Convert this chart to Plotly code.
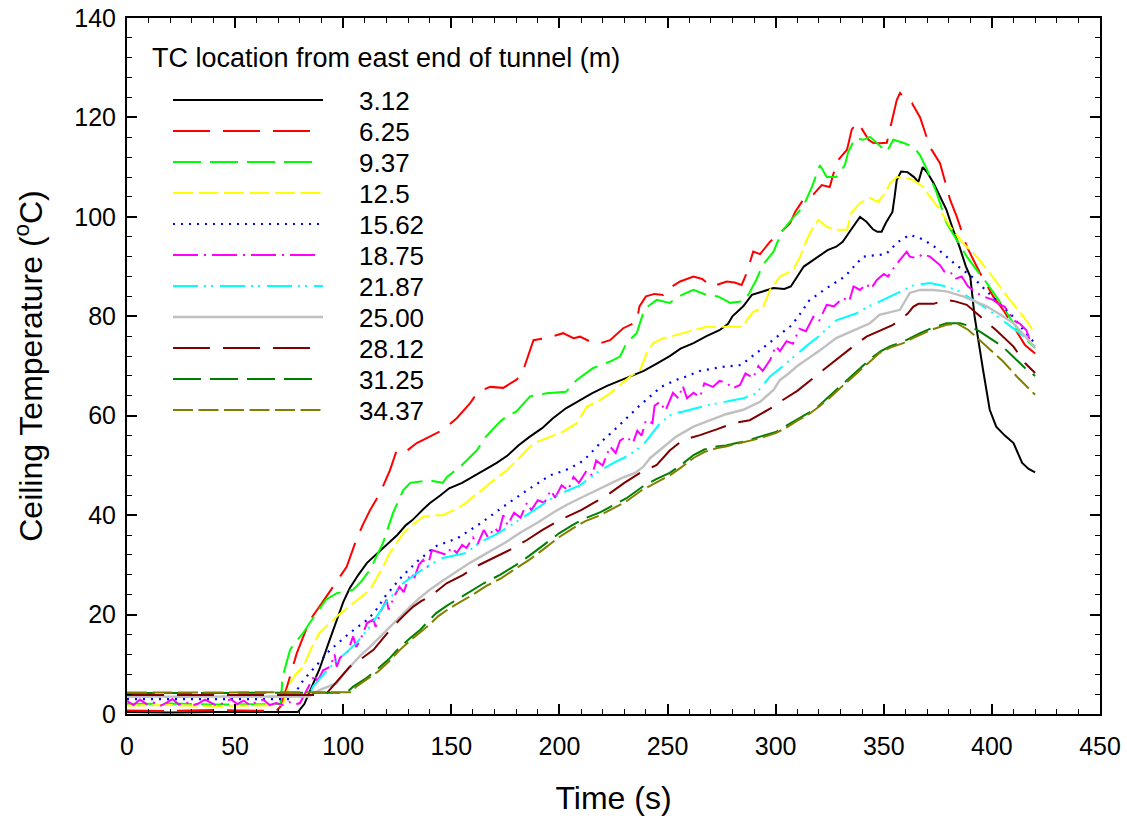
import plotly.graph_objects as go

# ---------------- data ----------------
labels = ["3.12", "6.25", "9.37", "12.5", "15.62", "18.75", "21.87", "25.00", "28.12", "31.25", "34.37"]

t_312 = [0, 20, 40, 60, 79, 82, 86, 89, 93, 97, 100, 103, 107, 111, 115, 120, 125, 129, 132, 137, 140, 145, 149, 155, 159, 165, 171, 176, 181, 186, 192, 197, 203, 209, 215, 222, 229, 234, 239, 245, 251, 256, 262, 268, 274, 278, 280, 285, 289, 294, 299, 304, 307, 310, 313, 318, 324, 328, 331, 335, 339, 342, 345, 347, 349, 351, 354, 355, 356, 358, 361, 364, 366, 368, 370, 373, 376, 379, 382, 385, 388, 390, 392, 394, 396, 399, 402, 406, 410, 414, 417, 420]
T_312 = [0.4, 0.3, 0.4, 0.4, 0.4, 2, 6, 9, 14, 19, 22.5, 25.3, 28, 30.4, 32, 33.8, 36, 38, 39, 41.2, 42.4, 44, 45.4, 46.5, 47.5, 49, 50.5, 52, 54, 55.7, 57.5, 59.5, 61.5, 63, 64.5, 66, 67.2, 68.2, 69, 70.5, 72, 73.5, 74.6, 76, 77.2, 78.5, 80, 82, 84.3, 85, 85.7, 85.5, 86, 88, 90, 91.5, 93.3, 94, 95, 97.5, 100, 99, 97.5, 97, 97, 98.8, 101, 104, 107.4, 109.1, 109, 108, 107, 110, 109, 106.8, 104, 101.4, 97.5, 94, 90, 88, 80, 74, 69, 61.2, 57.8, 56, 54.5, 50.5, 49.3, 48.6]

t_625 = [0, 20, 40, 60, 69, 71, 74, 78.5, 82, 84.6, 89, 92, 95, 98, 101.6, 106, 109, 112.4, 117, 121.6, 124.7, 129, 134, 140, 146, 152.5, 158.6, 162.4, 168, 174, 180, 182.5, 185, 188, 194, 201.7, 206.5, 209.5, 215.7, 219, 223.4, 229.5, 235.7, 237, 240, 244, 248, 249.6, 255.8, 262, 266, 270.4, 274, 277.4, 281, 284.3, 286.6, 287.4, 289.6, 292.8, 297.4, 302, 306.6, 309, 312.7, 316, 321.3, 325, 328.3, 333, 335.2, 338, 340.5, 343, 345, 348, 351.4, 353.7, 356, 357.5, 360.6, 363, 366.8, 371.4, 376, 380.7, 383.8, 388.4, 394.5, 400.6, 405.2, 410, 415.3, 420]
T_625 = [0.7, 0.6, 0.8, 0.7, 0.6, 1.5, 5.5, 12.2, 16, 18.9, 21.6, 23.5, 25.6, 27.5, 29.6, 35, 38, 41, 44.4, 49, 53, 52.8, 54.5, 55.8, 57.1, 59.5, 62.5, 64.8, 65.8, 65.6, 67.2, 68.2, 71.2, 75.2, 75.6, 76.6, 75.6, 75.9, 74.6, 74.6, 75.2, 77.6, 78.9, 82, 84, 84.5, 84.3, 85.3, 87, 88, 87.5, 86, 86.5, 87, 86.8, 86.3, 88.7, 90, 93, 92.5, 95, 96.7, 98.7, 101, 103.4, 103.8, 106.4, 106, 111.1, 113.5, 117.6, 119, 117.1, 115.5, 114.9, 114.8, 114.9, 118.9, 123.5, 124.9, 123.5, 122.9, 120, 114, 110.8, 103.4, 100, 94, 88.7, 84, 81.3, 78, 74.2, 72.5]

t_937 = [0, 20, 40, 60, 71, 72, 75.4, 78, 81.5, 84, 87.7, 92, 97, 100, 104.6, 108, 112.4, 115, 118.4, 123, 127.7, 131, 134, 140, 146, 148, 154, 158.6, 161.7, 166, 172.5, 176, 180, 186.4, 194, 203, 208, 215.6, 223.4, 228, 231, 235.7, 238.7, 240, 245, 251, 256.6, 262, 268, 273.4, 279, 285, 286.6, 291, 294, 299, 302.8, 308, 312.7, 316.7, 320.5, 323.6, 328, 332, 333.5, 336.7, 340.5, 343.6, 346.7, 351.4, 354.4, 359, 363.6, 366.8, 370, 374.5, 379, 383.8, 388.4, 393, 397.6, 404, 410, 416, 420]
T_937 = [2.0, 2.1, 1.9, 2.0, 2.0, 7.5, 12.9, 14.5, 16.3, 18, 20.3, 23, 24.3, 24.5, 25, 26.5, 29, 31.5, 34.4, 40.4, 45, 46.5, 46.7, 47, 46.5, 47.7, 49.7, 51.7, 53, 55.8, 58.8, 60, 60.8, 63.9, 64.5, 64.8, 67.2, 69.6, 70.9, 71.9, 74.6, 76.6, 80.6, 81.7, 83.3, 82.7, 84.3, 85.3, 84.3, 84, 82.7, 83, 83.7, 87.3, 90.3, 93, 97, 99.8, 102, 106, 110.4, 108, 108, 110.4, 113, 115.8, 115.5, 116.1, 114.9, 113.1, 115.5, 114.9, 114.1, 112.4, 109.5, 104.8, 98.8, 95.4, 92, 89.3, 86.7, 82.7, 78.6, 75.2, 73.6]

t_125 = [0, 20, 40, 60, 72, 75.4, 78, 81.5, 85, 89, 93, 97, 101, 104.6, 108, 112.4, 115, 118.4, 121, 124.7, 128, 131, 137, 142, 146, 152.5, 157, 160, 164, 168, 171, 175.6, 181.8, 186.4, 190, 194, 201.7, 208, 212.6, 218.8, 223.4, 228, 232.7, 237.3, 240.4, 243.4, 248, 251, 257, 261.8, 268, 277.4, 285, 286.6, 289.6, 294, 297.4, 302, 308, 311.3, 314.4, 317.4, 319.7, 323.6, 328, 333, 335, 339, 343.6, 347.4, 350.6, 353, 356, 360.6, 363.6, 368.3, 371.4, 376, 380.7, 386.7, 393, 399, 407, 414.5, 420]
T_125 = [1.7, 1.8, 1.6, 1.7, 1.8, 6.2, 8, 9.5, 13, 16.3, 18, 19.6, 21, 22.3, 23.5, 25, 27, 29.6, 32, 34.4, 36.5, 37.7, 39.7, 40, 40, 41.3, 42.5, 43.7, 45, 46.5, 47.5, 49, 51.7, 53.8, 54.8, 55.5, 56.8, 58.5, 61.8, 63.2, 64.5, 66.2, 67.9, 69.2, 72.6, 74.6, 75.6, 75.9, 76.6, 77.2, 77.9, 77.9, 77.9, 79.2, 80.9, 81.7, 85.3, 88, 89.3, 92, 95.4, 98, 99.4, 98, 97.4, 97.4, 100.8, 102.8, 103.8, 103, 104.8, 106.8, 108, 107.8, 107.4, 106, 104, 101.4, 98, 94.7, 92, 88.7, 84, 80, 76.6]

t_1562 = [0, 20, 40, 60, 76, 81.5, 87.7, 94, 103, 111, 114.7, 119.3, 127, 134, 142.5, 153, 164, 174, 185, 195.6, 202.6, 209.5, 213, 220, 227, 237, 247, 254, 258, 265, 275, 284, 294, 300.5, 307.4, 312.7, 315, 323, 332, 340.4, 351, 356.4, 362, 368, 374.5, 383, 391.5, 398.4, 409, 415, 420]
T_1562 = [3.0, 3.0, 3.0, 3.0, 3.0, 6.8, 9.9, 12.9, 16.3, 18.9, 20.6, 23.6, 27.6, 30.6, 33.7, 35.4, 38.5, 41.7, 45, 48, 49, 50.5, 51.8, 55, 57.8, 62, 65.8, 67.2, 67.8, 69, 69.8, 70.2, 73.6, 75.9, 78.2, 81.3, 83, 85.5, 88, 92, 92.5, 94.9, 96.4, 95.5, 93.7, 90.5, 87.7, 84.7, 80.3, 77, 74.5]

t_1875 = [0, 3, 6, 9, 12, 15, 18, 21, 24, 27, 30, 33, 36, 39, 42, 45, 48, 51, 54, 57, 60, 63, 66, 69, 72, 75, 78, 80, 84.6, 87, 88, 90.7, 94, 96, 97, 98.5, 102, 104.6, 106, 108, 111, 114, 115, 117, 120, 121, 124, 126, 128, 131, 133, 135, 137, 139, 141, 144.8, 148, 150, 152.5, 155, 157, 160, 162, 165, 167, 170, 172, 174, 176, 179, 182, 185, 187, 190, 193, 196, 198, 201, 204, 206.5, 209, 212.6, 215, 217, 220, 223.4, 226, 228, 231, 234, 236, 238, 240, 243, 244, 246.5, 249, 252.5, 255, 257, 259, 262, 265, 267, 271, 274, 277.4, 280, 283.5, 286, 289.6, 292, 294, 297.4, 300, 302, 305, 308, 311, 314, 317.4, 320, 323.6, 327, 331, 334, 336, 339, 342, 344, 346.8, 350, 352, 355, 357.5, 359, 360.6, 362, 365.3, 368, 371.4, 374, 376, 378, 380.7, 383, 386, 389, 393, 396, 400.6, 403, 406, 410, 413, 416, 418, 420]
T_1875 = [2.6, 1.8, 2.9, 2.0, 2.4, 1.6, 2.2, 3.0, 1.9, 2.5, 1.7, 2.1, 2.9, 2.2, 1.6, 2.4, 3.0, 2.0, 2.7, 1.7, 2.5, 2.9, 1.8, 2.2, 1.8, 2.4, 1.9, 2.2, 6.2, 8, 6.5, 8.8, 9.5, 12, 9.5, 11.3, 12.5, 15.6, 13.5, 15, 18.3, 19, 17.5, 20.3, 23, 21, 24, 25.6, 24.5, 28.3, 27.5, 30, 31, 29.5, 33, 32.4, 32, 33.5, 32.4, 34, 33.4, 35.5, 34, 37, 35.5, 37.5, 36.5, 40, 38, 40.5, 39.5, 42.5, 41, 43, 42.5, 45, 43.5, 46, 45, 47.7, 46.5, 49, 48, 51, 50, 53.8, 52.5, 55, 55.8, 54.5, 57, 56, 59.1, 58.5, 62, 62.8, 61, 64.6, 63.5, 66, 63.5, 64.6, 63.8, 66.5, 65.8, 67, 66.6, 65.5, 66.2, 68.5, 67.6, 70, 69, 71.2, 74, 73, 75, 74.5, 77.5, 77, 79.9, 79, 82.3, 82, 83.7, 83, 86, 85.3, 86.5, 85.5, 87.3, 88.5, 88, 90, 91.3, 92, 93, 92, 91.7, 92.5, 92, 91, 90.3, 89, 89, 87.5, 88, 86, 84.7, 84, 83.3, 82.5, 81.9, 79.2, 78.5, 77.2, 74.5, 74]

t_2187 = [0, 20, 40, 60, 84, 86, 90, 94, 100, 106, 112.4, 116, 120, 124, 127.7, 134, 140, 146, 152, 157, 163, 170, 176, 183, 190, 197, 203, 209.5, 214, 218.8, 225, 231, 238.7, 242, 246.5, 252.5, 257, 263, 269.7, 279, 285, 291, 294, 297.4, 302, 306, 310, 315, 320, 328, 337.5, 343, 349.7, 357.5, 364, 371.4, 379, 385, 391.5, 396, 400.6, 407, 413, 420]
T_2187 = [3.5, 3.4, 3.5, 3.5, 3.5, 5.5, 7.5, 9.5, 11.8, 14.2, 17.6, 20, 22.6, 24.5, 26.3, 28.3, 30, 31.4, 32, 32.4, 34.5, 36, 37.5, 39.5, 41.5, 43.5, 44.8, 46, 47.5, 49, 50.5, 51.8, 54.1, 56, 58.5, 60.5, 60.8, 61.5, 62.2, 63, 63.5, 64.5, 66, 67.9, 69.5, 71, 72.5, 74.3, 76, 79.2, 80.6, 82, 83.3, 85, 86.3, 86.7, 86, 85, 83.3, 82, 80.6, 78.6, 76.6, 73.9]

t_2500 = [0, 20, 40, 60, 84, 89, 93, 97, 101, 104.6, 108, 112.4, 117, 121.6, 126, 131, 135, 140, 146, 151, 158.6, 165, 175, 182, 190, 197, 203, 209.5, 215, 220, 229, 235, 238.7, 242, 246.5, 250, 254, 262, 269.7, 277, 285, 292.8, 299, 302, 306, 310, 315, 320, 328, 336, 343.6, 348, 357.5, 362, 366.8, 373, 379, 386.7, 392, 397.6, 404, 410, 415, 420]
T_2500 = [3.5, 3.5, 3.5, 3.5, 3.5, 4.8, 5.5, 6.2, 8.5, 10.3, 11.8, 13.5, 15.5, 17.6, 19.5, 21.6, 23.2, 25, 26.8, 28.3, 30.4, 32, 34.5, 36.5, 38.5, 40.5, 42, 43.4, 44.6, 45.7, 47.5, 48.5, 49.7, 51.5, 53.1, 54.5, 55.8, 57.8, 59.1, 60.3, 61.2, 62.8, 65.2, 67.2, 68.5, 70, 71.5, 73, 75.6, 77.2, 78.6, 80.3, 81.3, 84.7, 85.3, 85.3, 85, 84, 83, 82, 80.3, 78.6, 76.2, 73.6]

t_2812 = [0, 20, 40, 60, 90, 92.4, 97, 103, 108, 114, 118, 123, 128, 132.4, 136, 140, 147.8, 155.5, 162, 170, 177, 185, 192, 200, 206, 210, 216, 222, 230, 237.3, 245, 251, 257, 265, 273, 280.4, 288, 294, 299, 302, 310, 320, 330, 336, 342, 348, 354, 358, 361, 363.6, 366, 373, 379, 383, 388.4, 394.5, 402, 410, 415.3, 420]
T_2812 = [3.8, 3.8, 3.7, 3.8, 3.8, 4.2, 6.5, 9.5, 11, 12.9, 15, 17.6, 19.8, 21.6, 22.7, 23.6, 26.3, 28, 29.8, 31.5, 33, 35, 37, 39, 40.3, 41, 42.5, 44, 46.5, 48.5, 50.1, 53, 55.1, 56.1, 57.3, 58.5, 59.1, 60.5, 61.8, 62.8, 65, 68.5, 72, 74, 75.9, 77, 78.2, 79.5, 80.5, 81.9, 82.5, 82.5, 83.3, 83, 82.3, 80, 77.2, 73.9, 70.6, 68.6]

t_3125 = [0, 20, 40, 60, 80, 100, 102, 104.6, 110, 115.5, 121, 126.3, 131, 135.5, 139, 143, 148, 152.5, 158.6, 165, 172.5, 180, 186, 191, 196, 200, 206, 212, 219, 225, 231, 238.7, 245, 251, 256, 262, 267, 272.7, 277, 282, 287, 292.8, 300.5, 305, 310, 315, 320, 325, 330, 335, 340, 344, 348.3, 353, 359, 363, 366.8, 372, 379, 385.3, 390, 394.5, 400, 405, 410, 415.3, 420]
T_3125 = [4.2, 4.2, 4.3, 4.2, 4.2, 4.3, 4.5, 5.5, 7, 8.9, 11, 13.5, 15.3, 16.9, 18.5, 20.3, 21.8, 23, 24.6, 26.3, 28, 30, 31.8, 33.4, 35, 36.4, 38, 39.4, 40.6, 42, 43.4, 45.8, 47.3, 48.5, 50, 52.1, 53.2, 53.8, 54, 54.5, 55, 55.8, 56.8, 58, 59.3, 60.5, 62, 64, 66, 68, 70, 71.5, 72.9, 74, 74.9, 75.8, 76.6, 77.6, 78.6, 78.6, 78, 76.9, 75.3, 73.9, 71.8, 69.6, 68]

t_3437 = [0, 20, 40, 60, 80, 100, 104, 106, 111, 116, 121, 126, 131, 136, 140, 144, 149, 154, 160, 166, 173, 180, 186, 191, 196, 200, 206, 212, 219, 225, 231, 238, 245, 251, 256, 262, 267, 273, 277, 282, 287, 293, 300, 305, 310, 315, 320, 325, 330, 335, 340, 344, 348, 353, 359, 363, 367, 372, 379, 384, 389, 394.5, 400, 405, 411.5, 416, 420]
T_3437 = [4.3, 4.3, 4.3, 4.3, 4.3, 4.3, 4.4, 5.5, 7, 8.5, 10.5, 12.8, 14.8, 16.5, 18, 19.7, 21.2, 22.5, 24, 25.7, 27.3, 29.3, 31, 32.6, 34.2, 35.6, 37.3, 38.8, 40, 41.4, 42.8, 45, 46.6, 48, 49.5, 51.5, 52.7, 53.5, 53.8, 54.3, 54.8, 55.5, 56.5, 57.6, 59, 60.2, 61.8, 63.6, 65.6, 67.6, 69.6, 71.2, 72.6, 73.7, 74.6, 75.5, 76.3, 77.3, 78.3, 78.5, 77.3, 75.2, 73, 71, 67.9, 66, 64.2]

x_ticks = [0, 50, 100, 150, 200, 250, 300, 350, 400, 450]
y_ticks = [0, 20, 40, 60, 80, 100, 120, 140]

times = [t_312, t_625, t_937, t_125, t_1562, t_1875, t_2187, t_2500, t_2812, t_3125, t_3437]
temps = [T_312, T_625, T_937, T_125, T_1562, T_1875, T_2187, T_2500, T_2812, T_3125, T_3437]

# ---------------- styles ----------------
colors = ["#000000", "#ff0000", "#00ff00", "#ffff00", "#0000ff", "#ff00ff",
          "#00ffff", "#c0c0c0", "#800000", "#008000", "#808000"]
dashes = ["solid", "37px,13px", "28px,9px", "20px,5.5px", "2px,6px",
          "25px,6px,2px,6px", "25px,6px,2px,5px,2px,7px", "solid",
          "37px,13px", "28px,9px", "20px,5.5px"]
widths = [2, 2, 2, 2, 2.2, 2, 2, 2.4, 2, 2, 2]
# right end (px) of each legend line sample, so the dash pattern ends cleanly
legend_x1 = [323, 311, 315, 322, 323, 318, 323, 323, 311, 315, 322]

FONT = "Liberation Sans, Arial, sans-serif"
W, H = 1127, 820
ML, MR, MT, MB = 127, 27, 18, 106
PW, PH = W - ML - MR, H - MT - MB


def px_x(px):
    return (px - ML) / PW


def px_y(py):
    return (H - MB - py) / PH


fig = go.Figure()
for lab, tt, yy, c, d, w in zip(labels, times, temps, colors, dashes, widths):
    fig.add_trace(go.Scatter(x=tt, y=yy, mode="lines", name=lab,
                             line=dict(color=c, dash=d, width=w), showlegend=False))

# manual legend (long line samples as in the reference)
shapes = []
annotations = [dict(x=px_x(150), y=px_y(58), xref="paper", yref="paper",
                    text="TC location from east end of tunnel (m)", showarrow=False,
                    xanchor="left", yanchor="middle", font=dict(family=FONT, size=27, color="black"))]
for i, (lab, c, d, w, x1) in enumerate(zip(labels, colors, dashes, widths, legend_x1)):
    yy = 100 + 31 * i
    shapes.append(dict(type="line", xref="paper", yref="paper",
                       x0=px_x(173), x1=px_x(x1), y0=px_y(yy), y1=px_y(yy),
                       line=dict(color=c, dash=d, width=w)))
    annotations.append(dict(x=px_x(357), y=px_y(yy + 1), xref="paper", yref="paper",
                            text=lab, showarrow=False, xanchor="left", yanchor="middle",
                            font=dict(family=FONT, size=26, color="black")))

axis_common = dict(showline=True, linecolor="black", linewidth=2, mirror="allticks",
                   ticks="inside", ticklen=10, tickwidth=1.5, tickcolor="black",
                   showgrid=False, zeroline=False,
                   tickfont=dict(family=FONT, size=25, color="black"))

fig.update_layout(
    width=W, height=H,
    margin=dict(l=ML, r=MR, t=MT, b=MB, autoexpand=False),
    paper_bgcolor="white", plot_bgcolor="white",
    font=dict(family=FONT, color="black"),
    shapes=shapes, annotations=annotations,
    xaxis=dict(range=[0, 450], tickvals=x_ticks, ticktext=[str(v) for v in x_ticks],
               minor=dict(dtick=10, tick0=0, ticks="inside", ticklen=5, tickwidth=1, tickcolor="black"),
               title=dict(text="Time (s)", font=dict(family=FONT, size=32, color="black"), standoff=28),
               ticklabelstandoff=9, automargin=False, **axis_common),
    yaxis=dict(range=[0, 140], tickvals=y_ticks, ticktext=[str(v) for v in y_ticks],
               minor=dict(dtick=4, tick0=0, ticks="inside", ticklen=5, tickwidth=1, tickcolor="black"),
               title=dict(text="Ceiling Temperature (<sup>o</sup>C)", font=dict(family=FONT, size=32, color="black"), standoff=22),
               ticklabelstandoff=4, automargin=False, **axis_common),
)

fig.write_html("out.html")
